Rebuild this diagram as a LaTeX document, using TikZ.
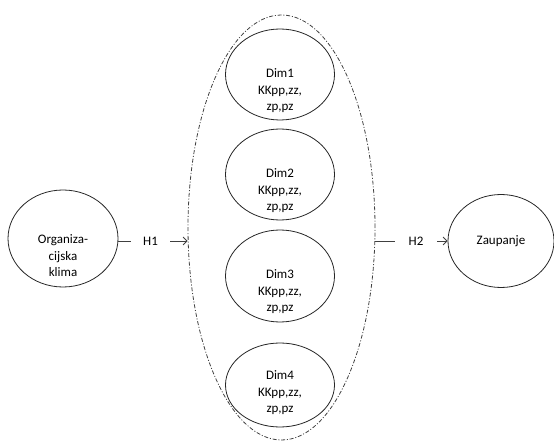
\documentclass[tikz,border=0pt]{standalone}
\usepackage{fontspec}
\setmainfont{Carlito}
\usetikzlibrary{arrows.meta,shapes.geometric}
\begin{document}
\begin{tikzpicture}[x=1pt,y=-1pt,
  every node/.style={font=\fontsize{13}{16.5}\selectfont, text=black},
  oval/.style={draw=black!85, line width=0.8pt, ellipse, inner sep=0pt},
  label text/.style={align=center, inner sep=0pt},
  hyp/.style={fill=white, inner sep=0pt, minimum height=12pt},
  conn/.style={draw=black!75, line width=0.8pt},
  tip/.style={conn, -{Straight Barb[length=4pt,width=8pt]}},
  group/.style={draw=black!75, line width=0.8pt, ellipse, inner sep=0pt,
    dash pattern=on 4pt off 1.8pt on 1pt off 1.8pt}
]
\useasboundingbox (0,0) rectangle (554,443);

% grouping ellipse around the four dimensions
\node[group, minimum width=187pt, minimum height=425pt] (grp) at (281.5,227.5) {};

% outer constructs
\node[oval, minimum width=110pt, minimum height=97pt] (org) at (63,238.5) {};
\node[label text] (orgt) at (63,256) {Organiza-\\cijska\\klima};
\node[oval, minimum width=106pt, minimum height=93pt] (zau) at (501,241) {};
\node[label text] (zaut) at (zau.center) {Zaupanje};

% dimensions
\foreach \i/\cy/\ty/\h in {1/74.5/91/91, 2/174.5/191/91, 3/276/292/92, 4/385/393/84} {
  \node[oval, minimum width=109pt, minimum height=\h pt] (d\i) at (280,\cy) {};
  \node[label text] (t\i) at (280,\ty) {Dim\i\\KKpp,zz,\\zp,pz};
}

% hypotheses
\node[hyp, minimum width=39pt] (h1) at (150.5,241) {H1};
\node[hyp, minimum width=42pt] (h2) at (416,241) {H2};

\draw[conn] (org.east |- h1) -- (h1.west);
\draw[tip] (h1.east) -- (h1.east -| grp.west);
\draw[conn] (h2 -| grp.east) -- (h2.west);
\draw[tip] (h2.east) -- (zau.west);
\end{tikzpicture}
\end{document}
